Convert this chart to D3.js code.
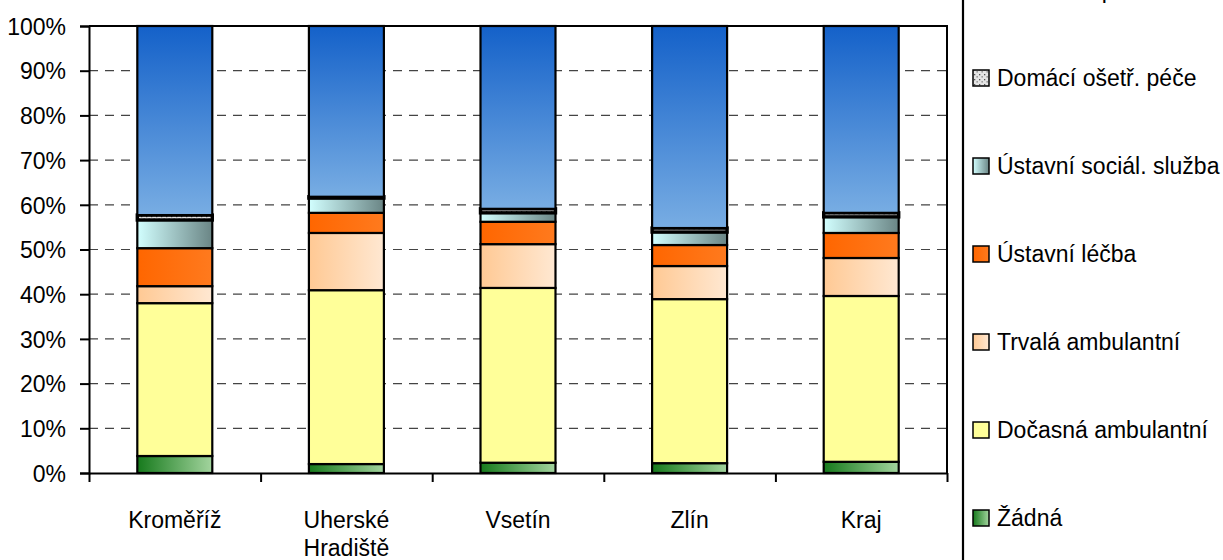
<!DOCTYPE html>
<meta charset="utf-8">
<script src="https://d3js.org/d3.v7.min.js"></script>
<style>
  body { margin: 0; background: #fff; }
  text { font-family: Arial, "Liberation Sans", sans-serif; fill: #000; }
</style>
<div id="chart"></div>
<script>

// regions (x axis)
var regions = ["Kroměříž", "Uherské Hradiště", "Vsetín", "Zlín", "Kraj"];

// series, bottom to top (percent of patients)
var zadna      = [3.8, 2.0, 2.3, 2.2, 2.5];
var docasna    = [34.2, 38.9, 39.1, 36.7, 37.1];
var trvala     = [3.8, 12.8, 9.8, 7.4, 8.5];
var lecba      = [8.5, 4.5, 5.0, 4.7, 5.6];
var socialni   = [6.3, 3.3, 2.0, 2.9, 3.6];
var domaci     = [1.1, 0.3, 0.9, 0.9, 0.9];
var lazenska   = [42.3, 38.2, 40.9, 45.2, 41.8];

var seriesNames = ["Žádná", "Dočasná ambulantní", "Trvalá ambulantní", "Ústavní léčba",
                   "Ústavní sociál. služba", "Domácí ošetř. péče", "Lázeňská péče"];
var seriesValues = [zadna, docasna, trvala, lecba, socialni, domaci, lazenska];

var yTicks = [0, 0.1, 0.2, 0.3, 0.4, 0.5, 0.6, 0.7, 0.8, 0.9, 1];

// table for d3.stack
var table = regions.map(function(r, i) {
  var row = {region: r};
  seriesNames.forEach(function(s, j) { row[s] = seriesValues[j][i] / 100; });
  return row;
});

var W = 1223, H = 560;
var plotL = 89, plotR = 947, plotT = 26, plotB = 473;

var svg = d3.select("#chart").append("svg")
  .attr("width", W).attr("height", H);

var defs = svg.append("defs");

function grad(id, c1, c2, vertical) {
  var g = defs.append("linearGradient").attr("id", id)
    .attr("x1", 0).attr("y1", 0)
    .attr("x2", vertical ? 0 : 1).attr("y2", vertical ? 1 : 0);
  g.append("stop").attr("offset", "0%").attr("stop-color", c1);
  g.append("stop").attr("offset", "100%").attr("stop-color", c2);
}
grad("g0", "#167a1c", "#a3d49e", false);
grad("g1", "#ffff99", "#ffff99", false);
grad("g2", "#ffc994", "#ffe8d2", false);
grad("g3", "#ff6600", "#ff7a1e", false);
grad("g4", "#d2ffff", "#6a8585", false);
grad("g6", "#1461c9", "#78ade3", true);

var pat = defs.append("pattern").attr("id", "g5")
  .attr("width", 5).attr("height", 5).attr("patternUnits", "userSpaceOnUse");
pat.append("rect").attr("width", 5).attr("height", 5).attr("fill", "#e4e4e4");
pat.append("rect").attr("x", 1).attr("y", 1).attr("width", 1.3).attr("height", 1.3).attr("fill", "#555");
pat.append("rect").attr("x", 3.5).attr("y", 3.2).attr("width", 1.3).attr("height", 1.3).attr("fill", "#777");

var fills = seriesNames.map(function(d, i) { return "url(#g" + i + ")"; });
var colour = d3.scaleOrdinal().domain(seriesNames).range(fills);

var x = d3.scaleBand().domain(regions).range([plotL, plotR])
  .paddingInner(0.563).paddingOuter(0.2815);
var xEdge = d3.scaleLinear().domain([0, regions.length]).range([plotL, plotR]);
var y = d3.scaleLinear().domain([0, 1]).range([plotB, plotT]);

// gridlines
svg.append("g").selectAll("line")
  .data(yTicks.filter(function(t) { return t > 0 && t < 1; }))
  .enter().append("line")
  .attr("x1", plotL).attr("x2", plotR)
  .attr("y1", function(d) { return y(d); }).attr("y2", function(d) { return y(d); })
  .attr("stroke", "#444").attr("stroke-width", 1.2)
  .attr("stroke-dasharray", "9,7");

// plot border top + right
svg.append("path")
  .attr("d", "M" + plotL + "," + y(1) + "H" + plotR + "V" + plotB)
  .attr("fill", "none").attr("stroke", "#000").attr("stroke-width", 2);

// stacked bars
var stack = d3.stack().keys(seriesNames)(table);

svg.append("g").selectAll("g")
  .data(stack)
  .enter().append("g")
  .attr("fill", function(d) { return colour(d.key); })
  .attr("stroke-width", function(d) { return d.key === "Domácí ošetř. péče" ? 3.4 : 2.2; })
  .selectAll("rect")
  .data(function(d) { return d; })
  .enter().append("rect")
  .attr("x", function(d) { return x(d.data.region); })
  .attr("width", x.bandwidth())
  .attr("y", function(d) { return y(d[1]); })
  .attr("height", function(d) { return y(d[0]) - y(d[1]); })
  .attr("stroke", "#000");

// y axis
var yAxis = svg.append("g")
  .attr("transform", "translate(" + plotL + ",0)")
  .call(d3.axisLeft(y).tickValues(yTicks).tickFormat(d3.format(".0%"))
    .tickSize(9).tickPadding(14));
yAxis.selectAll("text").style("font-size", "23px").attr("dy", "0.36em");
yAxis.selectAll("line, path").attr("stroke", "#000").attr("stroke-width", 2);

// x axis, ticks at category edges
var xAxis = svg.append("g")
  .attr("transform", "translate(0," + plotB + ")")
  .call(d3.axisBottom(xEdge).tickValues(d3.range(regions.length + 1))
    .tickFormat("").tickSize(9).tickSizeOuter(0));
xAxis.selectAll("line, path").attr("stroke", "#000").attr("stroke-width", 2);

// category labels
svg.append("g").selectAll("text")
  .data(regions)
  .enter().append("text")
  .attr("x", function(d) { return x(d) + x.bandwidth() / 2; })
  .attr("y", 528)
  .attr("text-anchor", "middle")
  .style("font-size", "23px")
  .each(function(d) {
    var words = d.split(" ");
    var t = d3.select(this);
    words.forEach(function(w, i) {
      t.append("tspan").attr("x", x(d) + x.bandwidth() / 2)
        .attr("dy", i === 0 ? 0 : 28).text(w);
    });
  });

// legend
svg.append("line")
  .attr("x1", 963).attr("x2", 963).attr("y1", 0).attr("y2", H)
  .attr("stroke", "#000").attr("stroke-width", 2.2);

var ly = d3.scalePoint().domain(seriesNames.slice().reverse()).range([-10, 518]);

var leg = svg.append("g").selectAll("g")
  .data(seriesNames)
  .enter().append("g")
  .attr("transform", function(d) { return "translate(973," + ly(d) + ")"; });

leg.append("rect")
  .attr("x", 0).attr("y", -8).attr("width", 16).attr("height", 16)
  .attr("fill", function(d) { return colour(d); })
  .attr("stroke", "#000").attr("stroke-width", 1.5);

leg.append("text")
  .attr("x", 24).attr("y", 0).attr("dy", "0.36em")
  .style("font-size", "23px")
  .text(function(d) { return d; });

</script>
